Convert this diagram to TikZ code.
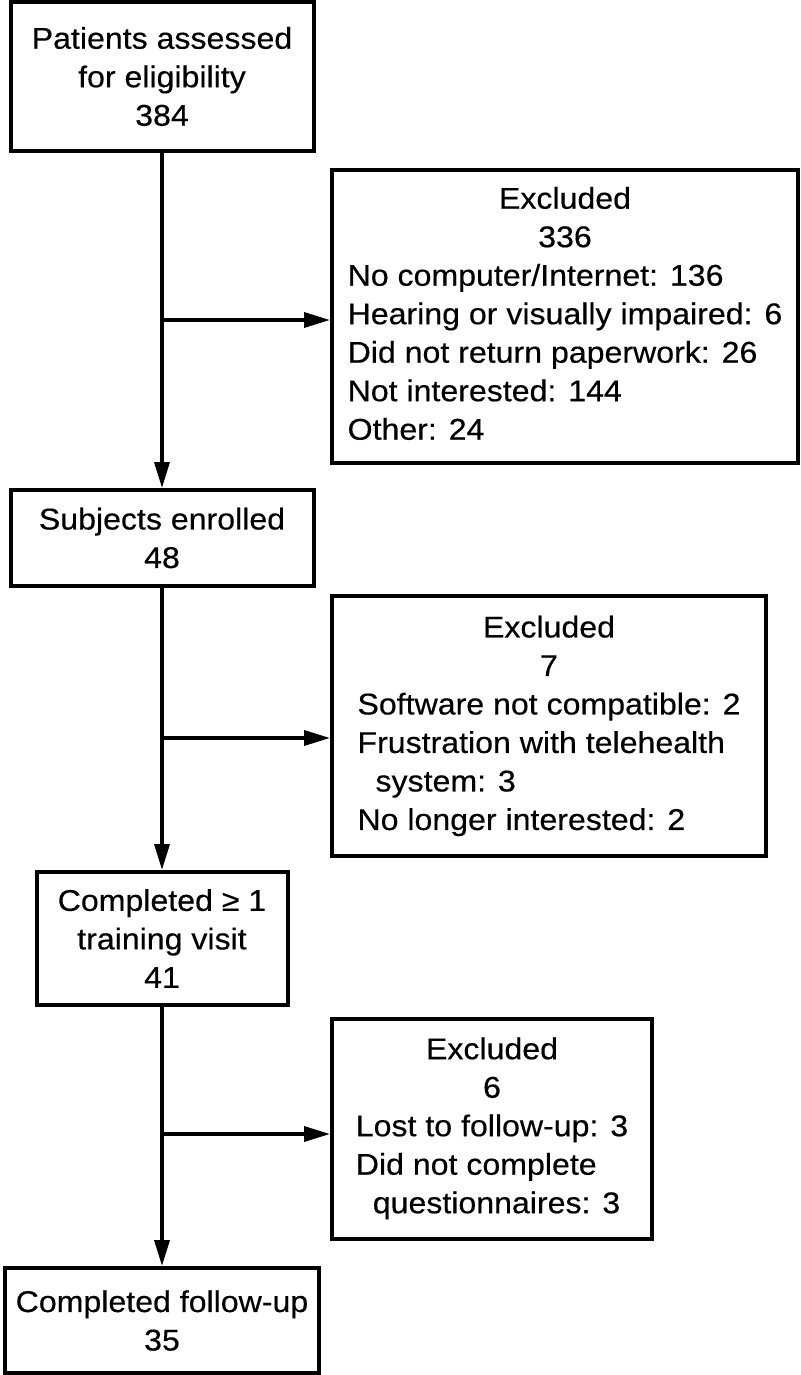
\documentclass[tikz,border=0pt]{standalone}
\usepackage{fontspec}
\setmainfont{Liberation Sans}[FakeStretch=1.07, FakeBold=0.4]
\usetikzlibrary{positioning, arrows.meta}

\begin{document}
\begin{tikzpicture}[x=1pt,y=-1pt]
        \tikzset{box/.style = {draw, line width=4pt, inner sep=0pt, font=\fontsize{30}{38.5}\selectfont}}
        \tikzset{arr/.style = {line width=3.5pt, -{Triangle[length=26pt,width=15pt]}}}

        \useasboundingbox (0,0) rectangle (800,1375);

        \node[box, align=center, minimum width=303, minimum height=149] (pat) at (162,76.5)
            {Patients assessed\\for eligibility\\384};
        \node[box, align=center, minimum width=303, minimum height=96] (enr) at (162,538)
            {Subjects enrolled\\48};
        \node[box, align=center, minimum width=251, minimum height=133] (trn) at (162,938.5)
            {Completed ≥ 1\\training visit\\41};
        \node[box, align=center, minimum width=314, minimum height=105] (fup) at (162,1320.5)
            {Completed follow-up\\35};

        \node[box, minimum width=466, minimum height=293] (exc1) at (565,316.5)
            {\begin{tabular}{@{}l@{}}
             \multicolumn{1}{@{}c@{}}{Excluded}\\
             \multicolumn{1}{@{}c@{}}{336}\\
             No computer/Internet: 136\\
             Hearing or visually impaired: 6\\
             Did not return paperwork: 26\\
             Not interested: 144\\
             Other: 24
             \end{tabular}};
        \node[box, minimum width=434, minimum height=260] (exc2) at (549,726)
            {\begin{tabular}{@{}l@{}}
             \multicolumn{1}{@{}c@{}}{Excluded}\\
             \multicolumn{1}{@{}c@{}}{7}\\
             Software not compatible: 2\\
             Frustration with telehealth\\
             \hspace{18pt}system: 3\\
             No longer interested: 2
             \end{tabular}};
        \node[box, minimum width=320, minimum height=220] (exc3) at (492,1128.5)
            {\begin{tabular}{@{}l@{}}
             \multicolumn{1}{@{}c@{}}{Excluded}\\
             \multicolumn{1}{@{}c@{}}{6}\\
             Lost to follow-up: 3\\
             Did not complete\\
             \hspace{17pt}questionnaires: 3
             \end{tabular}};

        \coordinate (b1) at (162,320);
        \coordinate (b2) at (162,738);
        \coordinate (b3) at (162,1134);

        \draw[arr] (pat) -- (enr);
        \draw[arr] (enr) -- (trn);
        \draw[arr] (trn) -- (fup);

        \draw[arr] (b1) -- (exc1.west |- b1);
        \draw[arr] (b2) -- (exc2.west |- b2);
        \draw[arr] (b3) -- (exc3.west |- b3);

        \end{tikzpicture}
\end{document}
